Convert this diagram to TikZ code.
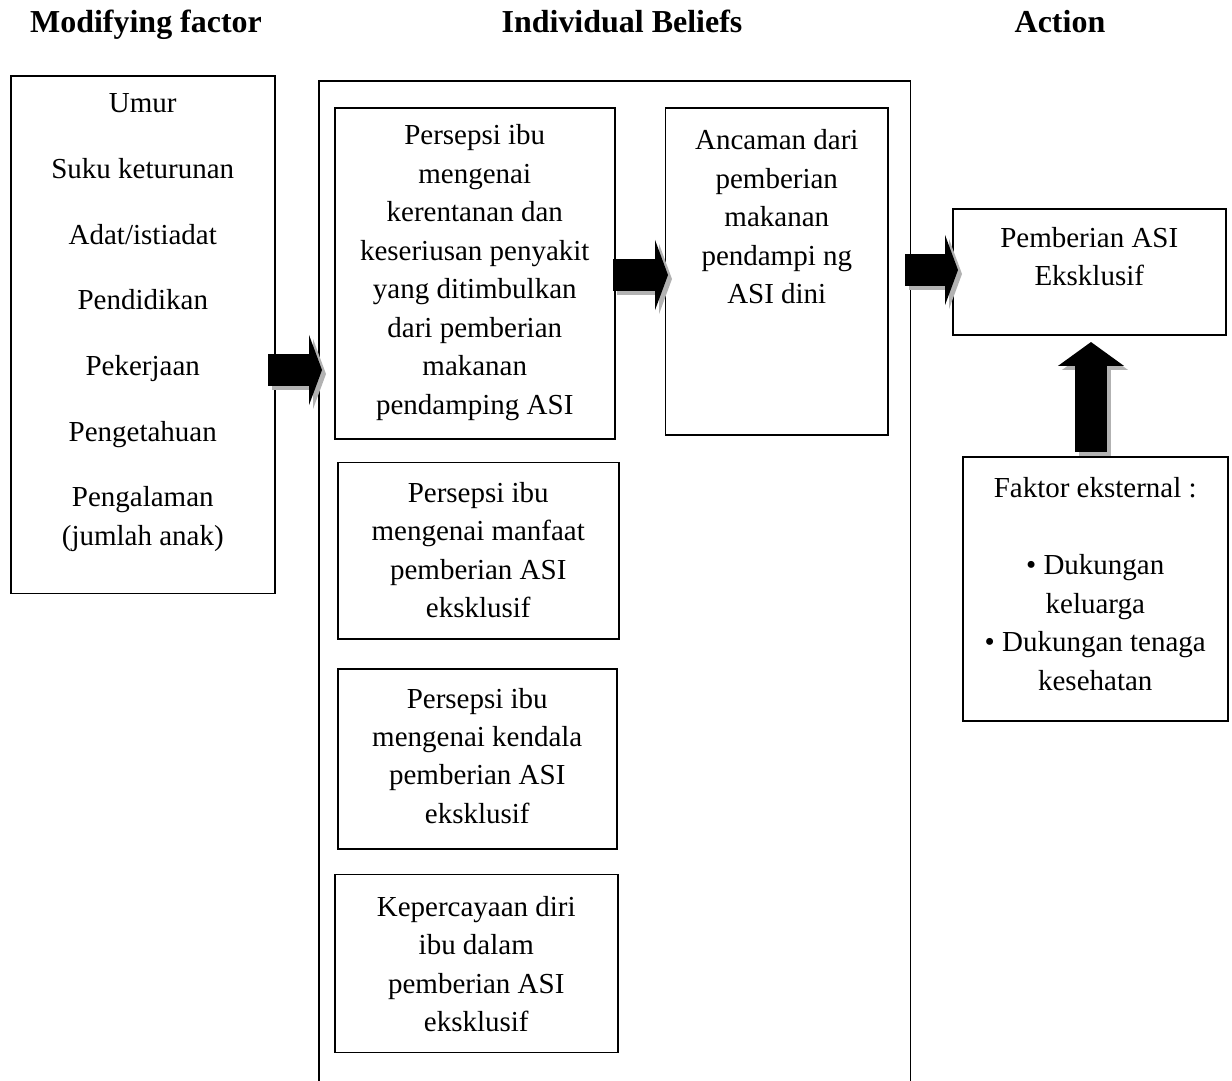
\documentclass[tikz,border=0pt]{standalone}
\usepackage{fontspec}
\setmainfont{Liberation Serif}
\usepackage{tikz}
\usetikzlibrary{positioning}
\usetikzlibrary{arrows.meta}

\newcommand{\boxtext}[4][21pt]{\parbox[c][#3][t]{#2}{\centering\rule{0pt}{#1}#4}}
\newcommand{\blockarrow}[3]{\draw[#1, color=black!30] ([shift={(4,4)}]#2) -- ([shift={(4,4)}]#3); \draw[#1] (#2) -- (#3);}

\begin{document}
\begin{tikzpicture}[x=0.02cm, y=-0.02cm]
			\tikzstyle{Box}   = [draw, line width=0.9pt, inner sep=0pt, anchor=north west, font=\fontsize{16.5}{21.9}\selectfont]
			\tikzstyle{Head}  = [anchor=base, font=\fontsize{18.2}{22}\selectfont\bfseries]
			\tikzstyle{Right} = [line width=0.66cm, -{Triangle[length=0.26cm, width=1.4cm]}]
			\tikzstyle{Up}    = [line width=0.64cm, -{Triangle[length=0.48cm, width=1.3cm]}]
			\path[use as bounding box] (0,0) rectangle (1232,1081);
			\node[Head] (hmod) at (146,33) {Modifying factor};
			\node[Head] (hbel) at (622,33) {Individual Beliefs};
			\node[Head] (hact) at (1060,33) {Action};
			\node[Box] (mod) at (10,75) {\boxtext{5.28cm}{10.36cm}{Umur\\[15.5pt] Suku keturunan\\[15.5pt] Adat/istiadat\\[15.5pt] Pendidikan\\[15.5pt] Pekerjaan\\[15.5pt] Pengetahuan\\[15.5pt] Pengalaman\\(jumlah anak)}};
			\node[Box, minimum width=11.84cm, minimum height=20.6cm] (beliefs) at (318,80) {};
				\node[Box] (perc) at (334,107) {\boxtext{5.6cm}{6.62cm}{Persepsi ibu\\ mengenai\\ kerentanan dan\\ keseriusan penyakit\\ yang ditimbulkan\\ dari pemberian\\ makanan\\ pendamping ASI}};
				\node[Box, right=0.98cm of perc.north east, anchor=north west] (threat) {\boxtext[23.8pt]{4.46cm}{6.54cm}{Ancaman dari\\ pemberian\\ makanan\\ pendampi ng\\ ASI dini}};
				\node[Box, below=0.44cm of perc.south west, xshift=0.06cm, anchor=north west] (benefit) {\boxtext[22.7pt]{5.62cm}{3.54cm}{Persepsi ibu\\ mengenai manfaat\\ pemberian ASI\\ eksklusif}};
				\node[Box, below=0.56cm of benefit.south west, anchor=north west] (barrier) {\boxtext[22.3pt]{5.58cm}{3.6cm}{Persepsi ibu\\ mengenai kendala\\ pemberian ASI\\ eksklusif}};
				\node[Box, below=0.48cm of barrier.south west, xshift=-0.06cm, anchor=north west] (self) {\boxtext[23.9pt]{5.66cm}{3.56cm}{Kepercayaan diri\\ ibu dalam\\ pemberian ASI\\ eksklusif}};
			\node[Box] (action) at (952,208) {\boxtext[22pt]{5.46cm}{2.52cm}{Pemberian ASI\\ Eksklusif}};
			\node[Box] (ext) at (962,456) {\boxtext[23.3pt]{5.3cm}{5.28cm}{Faktor eksternal :\\[21.9pt] \textbullet{} Dukungan\\ keluarga\\ \textbullet{} Dukungan tenaga\\ kesehatan}};
			\coordinate (m1) at (268,370);  \coordinate (m2) at (322,370);
			\coordinate (p1) at (613,275);  \coordinate (p2) at (668,275);
			\coordinate (t1) at (905,270);  \coordinate (t2) at (958,270);
			\coordinate (e1) at (1091,452); \coordinate (e2) at (1091,342);
			\blockarrow{Right}{m1}{m2}
			\blockarrow{Right}{p1}{p2}
			\blockarrow{Right}{t1}{t2}
			\blockarrow{Up}{e1}{e2}
		\end{tikzpicture}
\end{document}
